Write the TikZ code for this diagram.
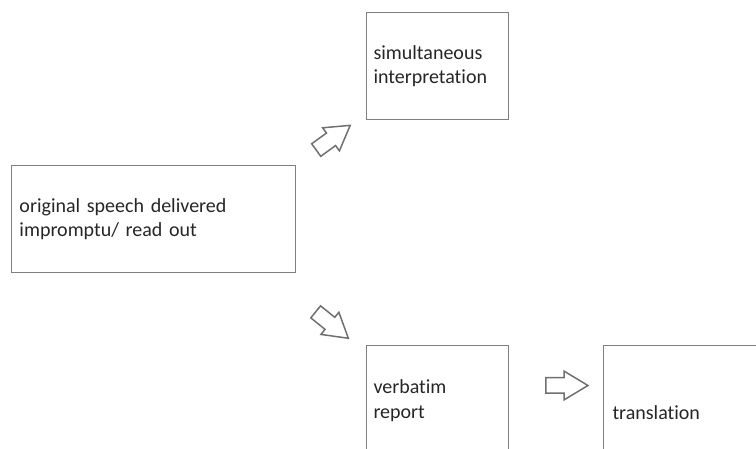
\documentclass[tikz,border=0pt]{standalone}
\usepackage{fontspec}
\setmainfont{Carlito}[Ligatures=NoCommon]
\usetikzlibrary{shapes.arrows}
\definecolor{boxline}{HTML}{7F7F7F}
\definecolor{arrline}{HTML}{707070}
\definecolor{txt}{HTML}{262626}
\begin{document}
\begin{tikzpicture}[x=1pt,y=-1pt,
  box/.style={draw=boxline,line width=1pt,anchor=north west,inner ysep=0pt,
    text=txt,font=\fontsize{20}{24.5}\selectfont,align=left},
  blockarrow/.style={draw=arrline,line width=1.5pt,single arrow,
    minimum height=42pt,inner sep=7pt,single arrow head extend=6.5pt,
    single arrow tip angle=62,fill=white}]
\useasboundingbox (0,0) rectangle (756,449);
\clip (0,0) rectangle (756,449);
\node[box,inner xsep=8pt,text width=268pt,minimum height=107pt] (orig) at (11,165)
  {original speech delivered\\impromptu/ read out};
\node[box,inner xsep=7pt,text width=128pt,minimum height=107pt] (simul) at (366,12)
  {simultaneous\\interpretation};
\node[box,inner xsep=7pt,text width=128pt,minimum height=110pt] (verb) at (366,345)
  {verbatim\\report};
\node[box,inner xsep=9pt,text width=182pt,minimum height=134pt] (trans) at (603,345)
  {translation};
\node[blockarrow,rotate=36] (a1) at (328,141.5) {};
\node[blockarrow,rotate=-39] (a2) at (327,321) {};
\node[blockarrow] (a3) at (560.5,385.5) {};
\end{tikzpicture}
\end{document}
